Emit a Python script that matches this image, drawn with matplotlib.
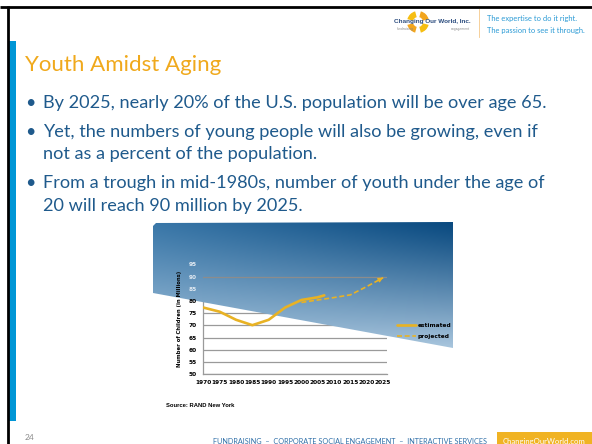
import numpy as np
import matplotlib.pyplot as plt
from matplotlib.patches import Polygon, Rectangle, Wedge
from matplotlib.colors import to_rgb

W, H = 592, 444

# children under age twenty, millions
est_years = [1970, 1975, 1980, 1985, 1990, 1995, 2000, 2005, 2007]
est_vals = [77.3, 75.6, 72.3, 70.1, 72.3, 77.3, 80.4, 81.5, 82.3]
proj_years = [2000, 2005, 2010, 2015, 2020, 2025]
proj_vals = [79.4, 80.4, 81.4, 82.5, 85.9, 89.5]
x_ticks = [1970, 1975, 1980, 1985, 1990, 1995, 2000, 2005, 2010, 2015, 2020, 2025]
y_ticks = [50, 55, 60, 65, 70, 75, 80, 85, 90, 95]
target = 90

slide_title = 'Youth Amidst Aging'
bullets = [
    ['By 2025, nearly 20% of the U.S. population will be over age 65.'],
    ['Yet, the numbers of young people will also be growing, even if',
     'not as a percent of the population.'],
    ['From a trough in mid-1980s, number of youth under the age of',
     '20 will reach 90 million by 2025.'],
]
chart_title = 'Children Under Age Twenty in the United States:\n1970 to 2025'

gold = '#E8B224'
navy_text = '#1F5A8C'
cyan = '#0096D6'
orange = '#F0A91C'

fig = plt.figure(figsize=(W / 100, H / 100), dpi=100)
bg = fig.add_axes([0, 0, 1, 1], zorder=0)
bg.set_xlim(0, W)
bg.set_ylim(H, 0)
bg.axis('off')

# slide frame and side bar
bg.plot([0, W], [7, 7], color='black', lw=2, solid_capstyle='butt')
bg.plot([8, 8], [6, H], color='black', lw=2, solid_capstyle='butt')
bg.add_patch(Rectangle((9, 41), 7, 380, color=cyan, lw=0))

# header logo + tagline
for a0, c in zip([15, 105, 195, 285], ['#F6BE12', '#F2A51E', '#F6BE12', '#F2A51E']):
    bg.add_patch(Wedge((418, 22), 11, a0, a0 + 60, width=6, color=c, lw=0))
bg.text(432, 21, 'Changing Our World, Inc.', fontsize=4.6, fontweight='bold',
        color='#2B4C7E', ha='center', va='center', family='Liberation Sans')
bg.text(405, 29, 'fundraising', fontsize=2.2, color='#888888', ha='center', va='center')
bg.text(460, 29, 'engagement', fontsize=2.2, color='#888888', ha='center', va='center')
bg.plot([479, 479], [9, 37], color='#F5C98A', lw=0.6)
bg.text(487, 18, 'The expertise to do it right.', fontsize=5.4, color='#2A9AD5',
        va='center', family='Lato')
bg.text(487, 30, 'The passion to see it through.', fontsize=5.4, color='#2A9AD5',
        va='center', family='Lato')

# title and bullets
bg.text(25, 63, slide_title, fontsize=16, color=orange, va='center_baseline', family='Lato')
line_y = [[101], [130, 152], [181, 204]]
for lines, ys in zip(bullets, line_y):
    bg.text(25, ys[0], '\u2022', fontsize=13, color=navy_text, va='center_baseline', family='Lato')
    for t, y in zip(lines, ys):
        bg.text(43, y, t, fontsize=13.1, color=navy_text, va='center_baseline', family='Lato')

# footer
bg.text(25, 437, '24', fontsize=6, color='#8A8A8A', va='center', family='Lato')
bg.text(350, 441, 'FUNDRAISING  \u2013  CORPORATE SOCIAL ENGAGEMENT  \u2013  INTERACTIVE SERVICES',
        fontsize=5.25, color='#2F6FA8', ha='center', va='center', family='Lato')
bg.add_patch(Rectangle((497, 432), W - 497, 14, color='#F0B323', lw=0))
bg.text(544, 441, 'ChangingOurWorld.com', fontsize=5.6, color='white', ha='center',
        va='center', family='Lato')

# chart axes
x0, x1, y0, y1 = 202.7, 386.7, 264.3, 374.3
ax = fig.add_axes([x0 / W, 1 - y1 / H, (x1 - x0) / W, (y1 - y0) / H], zorder=1)
ax.patch.set_alpha(0)

# gradient band behind the top of the chart
gx0, gx1, gy0, gy1 = 153, 453, 222, 352
poly = Polygon([(153, 226), (156, 223), (453, 222), (453, 348), (153, 293)],
               closed=True, transform=bg.transData)
xs = np.linspace(0, 1, 120)
ys = np.linspace(0, 1, 60)
hh, vv = np.meshgrid(xs, ys)
top_l, top_r, bot = np.array(to_rgb('#3A77A8')), np.array(to_rgb('#0A4A80')), np.array(to_rgb('#ADC9E0'))
top = top_l[None, None, :] * (1 - hh[..., None]) + top_r[None, None, :] * hh[..., None]
img = top * (1 - vv[..., None] ** 1.1) + bot[None, None, :] * vv[..., None] ** 1.1
im = ax.imshow(img, extent=(gx0, gx1, gy1, gy0), transform=bg.transData,
               aspect='auto', interpolation='bilinear', zorder=1)
im.set_clip_box(fig.bbox)
im.set_clip_path(poly)

ax.hlines(y_ticks, 1969, 2030, color='#9A9A9A', lw=0.9, zorder=0.8)
ax.axhline(target, color='#8C8C8C', lw=0.9, zorder=1.5)

ax.plot(est_years, est_vals, color=gold, lw=1.9, solid_joinstyle='round',
        solid_capstyle='round', zorder=3, label='estimated')
ax.plot(proj_years, proj_vals, color=gold, lw=1.2, dashes=(3, 1.6), zorder=3,
        label='projected')
ax.annotate('', xy=(proj_years[-1], proj_vals[-1]),
            xytext=(proj_years[-1] - 0.05 * (proj_years[-1] - proj_years[-2]),
                    proj_vals[-1] - 0.05 * (proj_vals[-1] - proj_vals[-2])),
            arrowprops=dict(arrowstyle='-|>', color=gold, lw=0.8, mutation_scale=7,
                            shrinkA=0, shrinkB=0), zorder=3)

ax.set_xlim(1969.8, 2026.1)
ax.set_ylim(50, 95)
ax.set_xticks(x_ticks)
ax.set_yticks(y_ticks)
ax.tick_params(length=0, labelsize=4.2, pad=4)
for lbl in ax.get_xticklabels() + ax.get_yticklabels():
    lbl.set_fontweight('bold')
for lbl, v in zip(ax.get_yticklabels(), y_ticks):
    lbl.set_color('#E2EAF2' if v > 80 else 'black')
for s in ['top', 'right']:
    ax.spines[s].set_visible(False)
for s in ['left', 'bottom']:
    ax.spines[s].set_color('#9A9A9A')
    ax.spines[s].set_linewidth(0.9)
    ax.spines[s].set_zorder(0.8)

ax.set_ylabel('Number of Children (in Millions)', fontsize=3.8, fontweight='bold', labelpad=5)
leg = ax.legend(loc='upper left', bbox_to_anchor=(395 / W, 1 - 321 / H),
                bbox_transform=fig.transFigure, frameon=False, fontsize=4.2,
                handlelength=3.2, handletextpad=0.3, labelspacing=0.9, borderaxespad=0)
for t in leg.get_texts():
    t.set_fontweight('bold')

bg.text(303, 239, chart_title, fontsize=5.3, fontweight='bold', color='white',
        ha='center', va='center', linespacing=1.3, family='Liberation Sans', zorder=5)
bg.text(166, 405, 'Source: RAND New York', fontsize=4.2, fontweight='bold',
        va='center', family='Liberation Sans')

fig.savefig('out.png', dpi=100)
